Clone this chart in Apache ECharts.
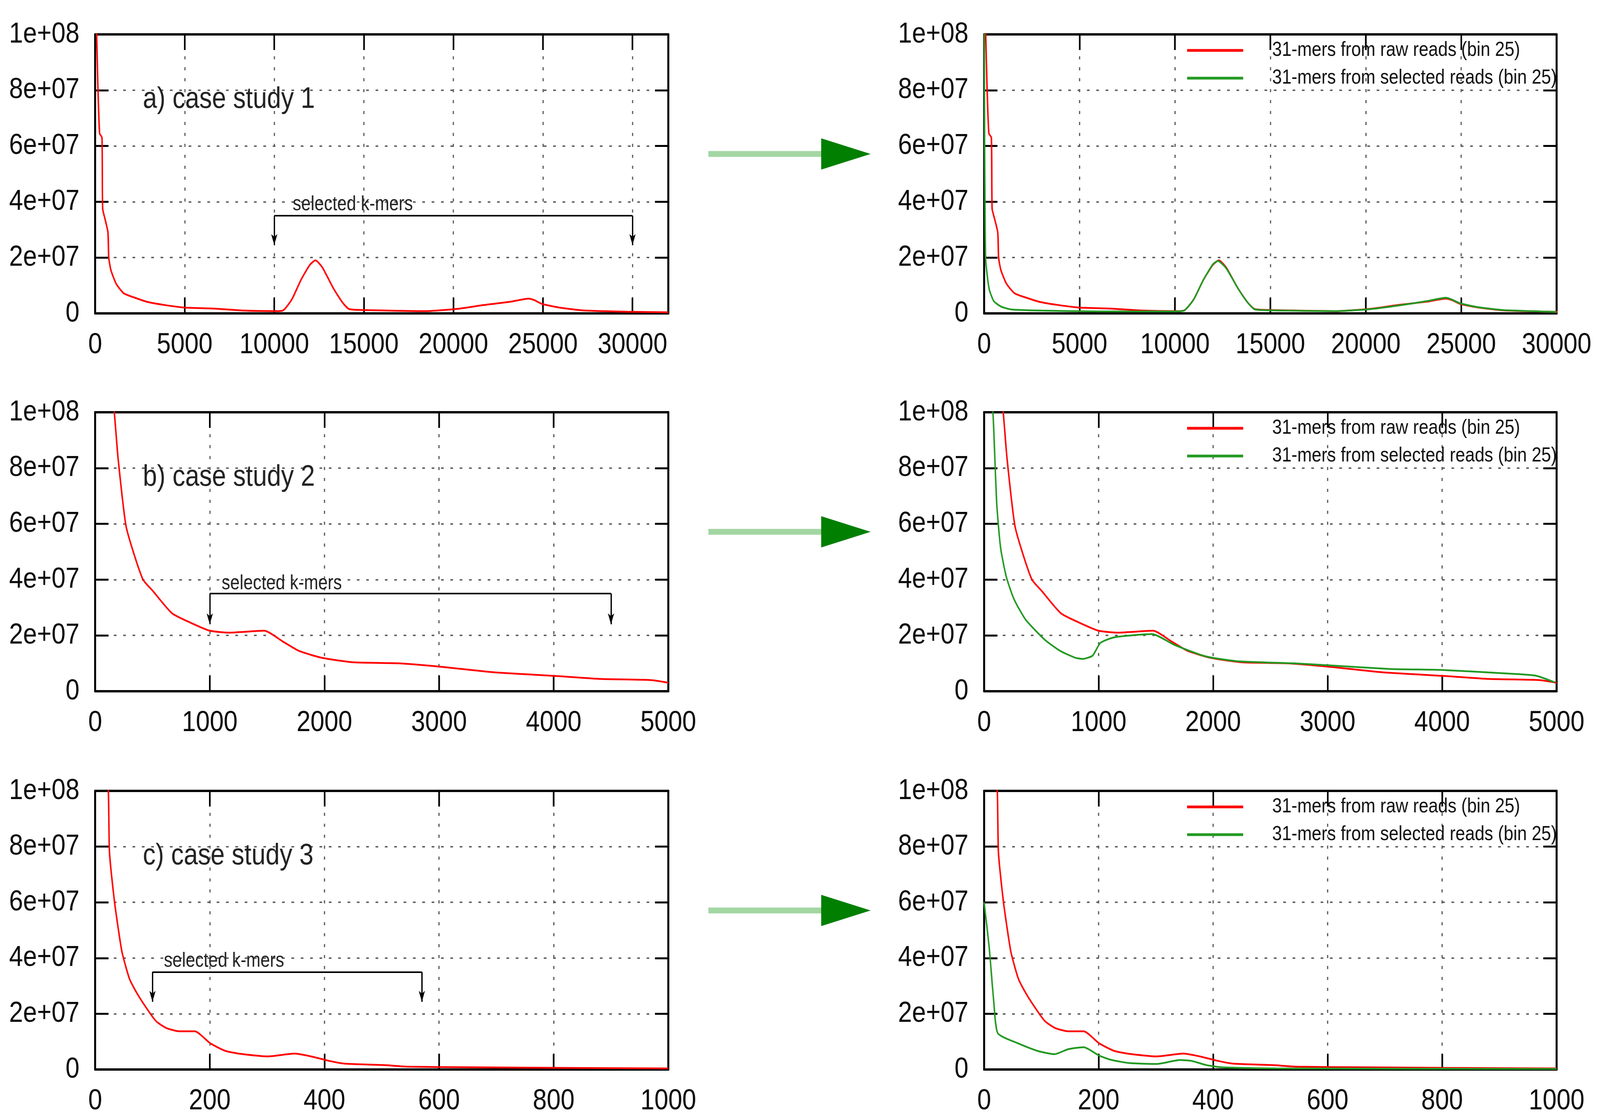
<!DOCTYPE html>
<html>
<head>
<meta charset="utf-8">
<script src="https://cdn.jsdelivr.net/npm/echarts@6/dist/echarts.min.js"></script>
<style>html,body{margin:0;padding:0;background:#fff;overflow:hidden}#wrap{position:absolute;left:0;top:0;width:4793px;height:2856px;transform-origin:0 0}#c{width:4793px;height:2856px}</style>
</head>
<body>
<div id="wrap"><div id="c"></div></div>
<script>
// ---------------- DATA ----------------
const yTickLabels = ['0', '2e+07', '4e+07', '6e+07', '8e+07', '1e+08'];
const panelLabels = ['a) case study 1', 'b) case study 2', 'c) case study 3'];
const legendNames = ['31-mers from raw reads (bin 25)', '31-mers from selected reads (bin 25)'];
const annotationText = 'selected k-mers';
const xMaxLeft = [32000, 5000, 1000];
const xMaxRight = [30000, 5000, 1000];
const xIntervals = [5000, 1000, 200];

// case study 1
const caseA_raw = [
  [25, 1.1e8], [85, 1.0e8], [150, 8.2e7], [250, 6.45e7], [380, 6.3e7], [420, 3.75e7],
  [545, 3.4e7], [715, 2.9e7], [760, 2.0e7], [880, 1.55e7], [1175, 1.06e7], [1600, 7.2e6],
  [2265, 5.5e6], [2930, 4.1e6], [3780, 3.1e6], [4950, 2.1e6], [6630, 1.7e6], [8300, 1.0e6],
  [9980, 8e5], [10470, 1.0e6], [10980, 5e6], [11490, 1.2e7], [11990, 1.74e7], [12300, 1.9e7],
  [12680, 1.65e7], [13300, 9e6], [13800, 4e6], [14200, 1.5e6], [15900, 1.1e6], [18400, 8e5],
  [20200, 1.6e6], [21700, 3.0e6], [23200, 4.2e6], [24200, 5.3e6], [24500, 4.8e6], [24950, 3.4e6],
  [25900, 2.1e6], [27200, 1.1e6], [29700, 6e5], [32000, 4e5]
];
const caseA_sel = [
  [0, 1.2e8], [25, 6e7], [50, 3.5e7], [78, 2.0e7], [156, 1.4e7], [273, 8.5e6], [507, 4.4e6],
  [900, 2.4e6], [1440, 1.4e6], [3000, 1.0e6], [6100, 7e5], [9870, 7e5], [10470, 1.0e6],
  [10980, 5e6], [11490, 1.2e7], [11990, 1.76e7], [12250, 1.88e7], [12680, 1.62e7], [13300, 9e6],
  [13800, 4e6], [14200, 1.4e6], [15900, 1.0e6], [18400, 8e5], [20200, 1.5e6], [21700, 2.8e6],
  [23200, 4.4e6], [24200, 5.6e6], [24500, 5.0e6], [24950, 3.6e6], [25900, 2.2e6], [27200, 1.2e6],
  [29700, 6e5], [30000, 5e5]
];
// case study 2
const caseB_raw = [
  [140, 1.1e8], [167, 1.0e8], [200, 8.35e7], [268, 5.95e7], [334, 4.98e7], [418, 4.0e7],
  [502, 3.6e7], [669, 2.8e7], [836, 2.45e7], [1000, 2.17e7], [1174, 2.1e7], [1300, 2.13e7],
  [1475, 2.17e7], [1642, 1.77e7], [1776, 1.45e7], [1976, 1.2e7], [2244, 1.04e7], [2645, 1.0e7],
  [3010, 8.8e6], [3478, 6.8e6], [4013, 5.5e6], [4415, 4.4e6], [4849, 4.0e6], [4983, 3.2e6],
  [5000, 3.0e6]
];
const caseB_sel = [
  [50, 1.1e8], [77, 1.0e8], [110, 6.75e7], [144, 5.14e7], [194, 4.1e7], [261, 3.3e7],
  [362, 2.57e7], [529, 1.85e7], [663, 1.45e7], [797, 1.2e7], [864, 1.16e7], [948, 1.28e7],
  [1015, 1.73e7], [1132, 1.93e7], [1333, 2.02e7], [1467, 2.05e7], [1668, 1.65e7], [1936, 1.25e7],
  [2203, 1.08e7], [2706, 1.0e7], [3041, 9.2e6], [3543, 8.0e6], [4012, 7.6e6], [4548, 6.4e6],
  [4816, 5.6e6], [4983, 3.2e6]
];
// case study 3
const caseC_raw = [
  [15, 1.2e8], [23, 1.0e8], [25, 7.8e7], [33, 6.15e7], [40, 5.1e7], [47, 4.2e7], [60, 3.25e7],
  [74, 2.7e7], [94, 2.07e7], [107, 1.72e7], [124, 1.49e7], [147, 1.37e7], [174, 1.37e7],
  [201, 9.4e6], [227, 6.7e6], [254, 5.6e6], [301, 4.7e6], [348, 5.7e6], [381, 4.5e6],
  [408, 3.1e6], [435, 2.1e6], [502, 1.6e6], [548, 1.0e6], [649, 8e5], [800, 6e5], [1000, 4e5]
];
const caseC_sel = [
  [0, 6.0e7], [9, 4.35e7], [17, 2.4e7], [24, 1.3e7], [59, 9.4e6], [93, 6.7e6], [123, 5.5e6],
  [147, 7.3e6], [174, 8.0e6], [201, 5.0e6], [221, 3.5e6], [254, 2.3e6], [302, 2.0e6],
  [342, 3.4e6], [362, 3.1e6], [388, 1.6e6], [415, 8e5], [509, 4e5], [1000, 2e5]
];
// "selected k-mers" brackets: [xStart, xEnd, yBar, yArrowTip, xText, yText]
const bracketA = [10000, 30000, 3.5e7, 2.45e7, 11030, 3.9e7];
const bracketB = [1000, 4500, 3.5e7, 2.4e7, 1104, 3.85e7];
const bracketC = [100, 570, 3.5e7, 2.43e7, 120, 3.88e7];

// ---------------- LAYOUT ----------------
const W = 4793, H = 2856;
const FONT = 'Liberation Sans, Arial, Helvetica, sans-serif';
const RED = '#ff0000', GREEN = '#229922';
const colLeft = [285, 2948], colWidth = [1717, 1715];
const rowTop = [88, 1055, 2024], rowHeight = [714, 714, 713];
const rawSets = [caseA_raw, caseB_raw, caseC_raw];
const selSets = [caseA_sel, caseB_sel, caseC_sel];
const brackets = [bracketA, bracketB, bracketC];

// fit the fixed-size drawing into whatever viewport the page gets
(function fit() {
  const vw = window.innerWidth || W, vh = window.innerHeight || H;
  const sx = vw / W, sy = vh / H;
  if (Math.abs(sx - 1) > 0.001 || Math.abs(sy - 1) > 0.001) {
    document.getElementById('wrap').style.transform = 'scale(' + sx + ',' + sy + ')';
  }
})();

const grids = [], xAxes = [], yAxes = [], series = [], legends = [];
const gridLine = {color: '#555', width: 3.5, type: [8, 20]};

function xAxis(gi, max, interval, pos) {
  return {
    type: 'value', gridIndex: gi, min: 0, max: max, interval: interval, position: pos,
    axisLine: {show: true, onZero: false, lineStyle: {color: '#000', width: 6}},
    axisTick: {show: true, inside: true, length: 40, lineStyle: {color: '#000', width: 5}},
    axisLabel: {show: pos === 'bottom', margin: 44, fontSize: 75, color: '#0a0a0a', fontFamily: FONT,
      showMaxLabel: max % interval === 0, showMinLabel: true, formatter: v => String(v)},
    splitLine: {show: pos === 'bottom', lineStyle: gridLine}
  };
}
function yAxis(gi, pos) {
  return {
    type: 'value', gridIndex: gi, min: 0, max: 1e8, interval: 2e7, position: pos,
    axisLine: {show: true, onZero: false, lineStyle: {color: '#000', width: 6}},
    axisTick: {show: true, inside: true, length: 40, lineStyle: {color: '#000', width: 5}},
    axisLabel: {show: pos === 'left', margin: 47, fontSize: 75, color: '#0a0a0a', fontFamily: FONT,
      formatter: v => yTickLabels[Math.round(v / 2e7)]},
    splitLine: {show: pos === 'left', lineStyle: gridLine}
  };
}

for (let r = 0; r < 3; r++) {
  for (let c = 0; c < 2; c++) {
    const gi = r * 2 + c;
    grids.push({left: colLeft[c], top: rowTop[r], width: colWidth[c], height: rowHeight[r],
      containLabel: false, outerBoundsMode: 'none', show: false});
    const max = c === 0 ? xMaxLeft[r] : xMaxRight[r];
    xAxes.push(xAxis(gi, max, xIntervals[r], 'bottom'));
    xAxes.push(xAxis(gi, max, xIntervals[r], 'top'));
    yAxes.push(yAxis(gi, 'left'));
    yAxes.push(yAxis(gi, 'right'));
    const base = {type: 'line', xAxisIndex: gi * 2, yAxisIndex: gi * 2, showSymbol: false,
      symbol: 'none', clip: true, animation: false, silent: true, smooth: 0.2};
    if (c === 0) {
      const b = brackets[r];
      series.push(Object.assign({}, base, {
        name: panelLabels[r], data: rawSets[r], color: RED,
        lineStyle: {color: RED, width: 4.5},
        markLine: {
          silent: true, animation: false, symbol: ['none', 'none'],
          lineStyle: {color: '#000', width: 4, type: 'solid'}, label: {show: false},
          data: [
            [{coord: [b[0], b[2]]}, {coord: [b[1], b[2]]}],
            [{coord: [b[0], b[2]], symbol: 'none'}, {coord: [b[0], b[3]], symbol: 'arrow', symbolSize: [14, 28]}],
            [{coord: [b[1], b[2]], symbol: 'none'}, {coord: [b[1], b[3]], symbol: 'arrow', symbolSize: [14, 28]}]
          ]
        }
      }));
    } else {
      series.push(Object.assign({}, base, {
        name: legendNames[0], data: rawSets[r], color: RED, lineStyle: {color: RED, width: 4.5}}));
      series.push(Object.assign({}, base, {
        name: legendNames[1], data: selSets[r], color: GREEN, lineStyle: {color: GREEN, width: 4.5}}));
      legends.push({
        orient: 'vertical', left: colLeft[c] + 603, top: rowTop[r] + 10,
        data: legendNames.slice(), icon: 'rect', itemWidth: 168, itemHeight: 7, itemGap: 19,
        selectedMode: false,
        textStyle: {fontSize: 52, lineHeight: 52, color: '#111', fontFamily: FONT, padding: [0, 0, 0, 82]}
      });
    }
  }
}

const chart = echarts.init(document.getElementById('c'), null, {renderer: 'canvas', width: W, height: H});
chart.setOption({
  animation: false,
  backgroundColor: '#fff',
  textStyle: {fontFamily: FONT},
  grid: grids, xAxis: xAxes, yAxis: yAxes, series: series, legend: legends
});

// annotations (text + arrows between panels)
const graphics = [];
for (let r = 0; r < 3; r++) {
  const gi = r * 2;
  graphics.push({type: 'text', silent: true, z: 100,
    x: colLeft[0] + 143, y: rowTop[r] + 167,
    style: {text: panelLabels[r], font: '76px ' + FONT, fill: '#222', verticalAlign: 'middle', align: 'left'}});
  const b = brackets[r];
  const p = chart.convertToPixel({xAxisIndex: gi * 2, yAxisIndex: gi * 2}, [b[4], b[5]]);
  graphics.push({type: 'text', silent: true, z: 100, x: p[0], y: p[1],
    style: {text: annotationText, font: '51px ' + FONT, fill: '#222', verticalAlign: 'middle', align: 'left'}});
  const yc = rowTop[r] + 306;
  graphics.push({type: 'line', silent: true, z: 100,
    shape: {x1: 2122, y1: yc, x2: 2465, y2: yc}, style: {stroke: '#a3d6a3', lineWidth: 15}});
  graphics.push({type: 'polygon', silent: true, z: 101,
    shape: {points: [[2460, yc - 40], [2608, yc], [2460, yc + 40]]}, style: {fill: '#007f00'}});
}
chart.setOption({graphic: graphics});
</script>
</body>
</html>
